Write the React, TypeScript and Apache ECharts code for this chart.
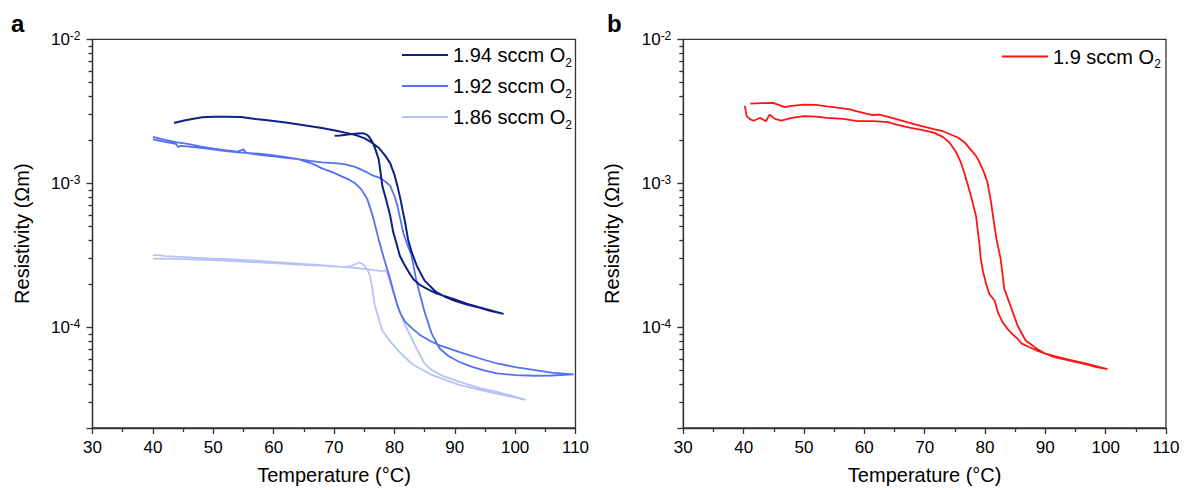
import React, { useEffect, useRef } from 'react';
import * as echarts from 'echarts';

// ---- axes ----
const X_MIN = 30;
const X_MAX = 110;
const X_STEP = 10;
const Y_MIN = 2e-5;
const Y_MAX = 1e-2;
const Y_MINOR = [
  3e-5, 4e-5, 5e-5, 6e-5, 7e-5, 8e-5, 9e-5,
  2e-4, 3e-4, 4e-4, 5e-4, 6e-4, 7e-4, 8e-4, 9e-4,
  2e-3, 3e-3, 4e-3, 5e-3, 6e-3, 7e-3, 8e-3, 9e-3,
];

// ---- series names / colours ----
const NAMES_A = ['1.94 sccm O2', '1.92 sccm O2', '1.86 sccm O2'];
const NAME_B = '1.9 sccm O2';
const COLORS_A = ['#101f86', '#5670f2', '#b7c3f6'];
const COLOR_B = '#ff1414';

// ---- data: [temperature °C, resistivity Ωm] (heating then cooling loop) ----
const S194: [number, number][] = [
  [43.5, 2.62e-3], [45, 2.72e-3], [46.5, 2.8e-3], [48.2, 2.88e-3], [50, 2.9e-3], [52, 2.9e-3],
  [54.6, 2.89e-3], [57, 2.8e-3], [59, 2.74e-3], [62, 2.64e-3], [65.3, 2.52e-3], [68, 2.42e-3],
  [70.4, 2.32e-3], [72, 2.24e-3], [73.6, 2.16e-3], [75, 2.06e-3], [76.1, 1.94e-3], [77.5, 1.75e-3],
  [78.5, 1.55e-3], [79.3, 1.38e-3], [80.0, 1.15e-3], [80.5, 9.6e-4], [81.0, 7.8e-4], [81.4, 6.4e-4],
  [81.8, 5.3e-4], [82.3, 4.0e-4], [82.9, 3.3e-4], [83.7, 2.68e-4], [85.0, 2.11e-4], [86.9, 1.76e-4],
  [88.5, 1.62e-4], [90.0, 1.53e-4], [92, 1.44e-4], [94, 1.37e-4], [96, 1.3e-4], [98.1, 1.24e-4],
  [96, 1.31e-4], [94, 1.38e-4], [92, 1.46e-4], [90, 1.56e-4], [88.5, 1.64e-4], [86.9, 1.72e-4],
  [85.5, 1.84e-4], [84.3, 1.96e-4], [83.2, 2.15e-4], [82.4, 2.41e-4], [81.6, 2.75e-4], [80.9, 3.14e-4],
  [80.3, 3.9e-4], [79.8, 4.6e-4], [79.3, 5.98e-4], [78.6, 7.8e-4], [78.0, 9.6e-4], [77.7, 1.2e-3],
  [77.4, 1.47e-3], [76.9, 1.7e-3], [76.4, 1.92e-3], [75.9, 2.08e-3], [75.5, 2.17e-3], [74.8, 2.23e-3],
  [74.0, 2.22e-3], [73.0, 2.2e-3], [72, 2.17e-3], [71, 2.15e-3], [70.1, 2.14e-3],
];

const S192: [number, number][] = [
  [40, 2.1e-3], [42, 2.0e-3], [43.8, 1.93e-3], [46, 1.87e-3], [48, 1.8e-3], [50.1, 1.74e-3],
  [52, 1.7e-3], [54, 1.66e-3], [55.0, 1.72e-3], [55.4, 1.63e-3], [58, 1.57e-3], [60, 1.54e-3],
  [62, 1.5e-3], [64.1, 1.47e-3], [66, 1.43e-3], [68, 1.4e-3], [70, 1.38e-3], [71.7, 1.36e-3],
  [73.5, 1.3e-3], [75.5, 1.19e-3], [76.5, 1.13e-3], [77.4, 1.1e-3], [78.5, 1.03e-3], [79.3, 9.6e-4],
  [80.0, 8.2e-4], [80.5, 7.0e-4], [81.0, 5.6e-4], [81.5, 4.5e-4], [82.0, 3.9e-4], [82.8, 3.2e-4],
  [83.7, 2.06e-4], [85.0, 1.28e-4], [86.2, 9.0e-5], [87.5, 7.13e-5], [89, 6.3e-5], [90.7, 5.77e-5],
  [93, 5.3e-5], [95, 5.0e-5], [97, 4.79e-5], [100, 4.66e-5], [103.3, 4.61e-5], [106, 4.63e-5],
  [109.7, 4.72e-5],
  [106, 4.85e-5], [103.3, 5.05e-5], [100, 5.3e-5], [97, 5.61e-5], [94, 6.1e-5], [90.7, 6.76e-5],
  [87.5, 7.5e-5], [86, 8.0e-5], [84.3, 8.8e-5], [83, 9.8e-5], [81.8, 1.09e-4], [81, 1.25e-4],
  [80.5, 1.42e-4], [79.8, 1.8e-4], [79.3, 2.17e-4], [78.3, 2.98e-4], [77.4, 4.08e-4], [76.4, 5.98e-4],
  [75.5, 7.8e-4], [74.5, 9.1e-4], [73.5, 1.0e-3], [72.3, 1.07e-3], [71, 1.13e-3], [69.8, 1.19e-3],
  [68, 1.27e-3], [66.6, 1.36e-3], [64.1, 1.47e-3], [62, 1.52e-3], [60, 1.56e-3], [58, 1.6e-3],
  [56, 1.62e-3], [54, 1.64e-3], [51.4, 1.69e-3], [49, 1.74e-3], [46, 1.8e-3], [44.5, 1.82e-3],
  [44.2, 1.78e-3], [43.8, 1.88e-3], [42, 1.94e-3], [40, 2.02e-3],
];

const S186: [number, number][] = [
  [40, 3.17e-4], [41, 3.17e-4], [42, 3.12e-4], [46, 3.06e-4], [50, 3.0e-4], [52.7, 2.98e-4],
  [56, 2.92e-4], [60, 2.85e-4], [65.3, 2.75e-4], [68, 2.7e-4], [71.7, 2.62e-4], [72.8, 2.66e-4],
  [74.2, 2.82e-4], [74.8, 2.75e-4], [75.5, 2.54e-4], [76.0, 2.25e-4], [76.4, 1.8e-4], [76.7, 1.45e-4],
  [77.4, 1.15e-4], [78.0, 9.5e-5], [79.3, 8.0e-5], [80.5, 7.0e-5], [81.2, 6.5e-5], [83.1, 5.5e-5],
  [86.2, 4.67e-5], [90.7, 3.98e-5], [94, 3.7e-5], [97, 3.45e-5], [101.8, 3.14e-5],
  [97, 3.57e-5], [94, 3.8e-5], [90.7, 4.2e-5], [88, 4.6e-5], [86.2, 5.05e-5], [85, 5.6e-5],
  [83.7, 7.1e-5], [82.8, 8.5e-5], [81.8, 1.03e-4], [80.5, 1.42e-4], [79.3, 2.06e-4], [78.8, 2.4e-4],
  [78.4, 2.5e-4], [78.0, 2.45e-4], [77.4, 2.48e-4], [76.5, 2.5e-4], [75, 2.55e-4], [72, 2.62e-4],
  [68, 2.68e-4], [64, 2.73e-4], [60, 2.79e-4], [55, 2.86e-4], [50, 2.93e-4], [45, 2.98e-4], [40, 3.0e-4],
];

const S19: [number, number][] = [
  [41.1, 3.58e-3], [43, 3.6e-3], [44.9, 3.62e-3], [45.8, 3.5e-3], [46.8, 3.38e-3], [48, 3.45e-3],
  [50, 3.52e-3], [52, 3.5e-3], [53.8, 3.42e-3], [55.5, 3.35e-3], [57.6, 3.26e-3], [59, 3.15e-3],
  [60.3, 3.05e-3], [61.4, 2.98e-3], [62.5, 3.0e-3], [64.6, 2.85e-3], [66.5, 2.7e-3], [68.4, 2.57e-3],
  [70, 2.47e-3], [71.5, 2.38e-3], [73, 2.3e-3], [74.1, 2.2e-3], [75.5, 2.08e-3], [76.6, 1.93e-3],
  [77.8, 1.68e-3], [78.5, 1.55e-3], [79.1, 1.4e-3], [79.8, 1.2e-3], [80.4, 1.02e-3], [81, 7.4e-4],
  [81.5, 5.3e-4], [81.9, 4.1e-4], [82.6, 2.98e-4], [83.2, 1.85e-4], [84.2, 1.42e-4], [85.4, 1.03e-4],
  [86.7, 8.13e-5], [88.6, 7.1e-5], [89.9, 6.6e-5], [91.5, 6.2e-5], [93.7, 5.92e-5], [96.8, 5.53e-5],
  [98.5, 5.3e-5], [100.3, 5.13e-5],
  [96.8, 5.6e-5], [93.7, 6.0e-5], [91.5, 6.3e-5], [89.9, 6.6e-5], [88.6, 6.9e-5], [87.3, 7.3e-5],
  [86.1, 7.7e-5], [85.3, 8.4e-5], [84.5, 9.0e-5], [83.7, 9.8e-5], [82.9, 1.09e-4], [82.2, 1.25e-4],
  [81.6, 1.53e-4], [80.7, 1.71e-4], [80.2, 2.0e-4], [79.7, 2.41e-4], [79.3, 3.0e-4], [79.1, 3.72e-4],
  [78.5, 5.98e-4], [77.8, 7.8e-4], [77.2, 9.6e-4], [76.6, 1.17e-3], [76.0, 1.4e-3], [75.2, 1.65e-3],
  [74.1, 1.92e-3], [73, 2.1e-3], [71.5, 2.25e-3], [69.5, 2.35e-3], [67.7, 2.43e-3], [65.5, 2.55e-3],
  [63.9, 2.66e-3], [61.5, 2.7e-3], [58.9, 2.7e-3], [56.5, 2.8e-3], [53.8, 2.85e-3], [52, 2.9e-3],
  [50, 2.93e-3], [48, 2.85e-3], [46.2, 2.72e-3], [45.2, 2.8e-3], [44.3, 3.0e-3], [43.7, 2.7e-3],
  [42.7, 2.85e-3], [41.7, 2.72e-3], [41.1, 2.78e-3], [40.5, 2.93e-3], [40.2, 3.45e-3], [40.35, 3.2e-3],
];

const FONT = '"Liberation Sans", Arial, sans-serif';
const AXIS_COLOR = '#333';

function xAxisCfg(gridIndex: number) {
  return {
    type: 'value',
    gridIndex,
    min: X_MIN,
    max: X_MAX,
    interval: X_STEP,
    name: 'Temperature (°C)',
    nameLocation: 'middle',
    nameGap: 37,
    nameTextStyle: { fontSize: 20, fontFamily: FONT, color: '#000' },
    axisLine: { show: true, onZero: false, lineStyle: { color: AXIS_COLOR, width: 1.3 } },
    axisTick: { show: true, length: 6, lineStyle: { color: AXIS_COLOR, width: 1.3 } },
    minorTick: { show: true, splitNumber: 2, length: 4, lineStyle: { color: AXIS_COLOR, width: 1.3 } },
    splitLine: { show: false },
    axisLabel: { fontSize: 17, fontFamily: FONT, color: '#000', margin: 11 },
  };
}

function yAxisCfg(gridIndex: number) {
  return {
    type: 'log',
    logBase: 10,
    gridIndex,
    position: 'left',
    min: Y_MIN,
    max: Y_MAX,
    name: 'Resistivity (Ωm)',
    nameLocation: 'middle',
    nameGap: 61,
    nameTextStyle: { fontSize: 20, fontFamily: FONT, color: '#000' },
    axisLine: { show: true, onZero: false, lineStyle: { color: AXIS_COLOR, width: 1.3 } },
    axisTick: { show: true, length: 6, lineStyle: { color: AXIS_COLOR, width: 1.3 } },
    splitLine: { show: false },
    axisLabel: {
      fontSize: 17,
      fontFamily: FONT,
      color: '#000',
      margin: 12,
      formatter: (v: number) => {
        const e = Math.log10(v);
        if (Math.abs(e - Math.round(e)) > 1e-6) return '';
        return `10{sup|${Math.round(e)}}`;
      },
      rich: { sup: { fontSize: 12, fontFamily: FONT, color: '#000', padding: [0, 0, 7, 0] } },
    },
  };
}

// companion log axis that only carries the minor ticks (2..9 × 10^n)
function yMinorAxisCfg(gridIndex: number) {
  return {
    type: 'log',
    logBase: 10,
    gridIndex,
    position: 'left',
    offset: 0,
    min: Y_MIN,
    max: Y_MAX,
    axisLine: { show: false },
    axisTick: { show: true, length: 4, customValues: Y_MINOR, lineStyle: { color: AXIS_COLOR, width: 1.3 } },
    axisLabel: { show: false },
    splitLine: { show: false },
  };
}

function lineSeries(name: string, data: [number, number][], color: string, idx: number, width = 1.8) {
  return {
    type: 'line',
    name,
    xAxisIndex: idx,
    yAxisIndex: idx,
    data,
    showSymbol: false,
    symbol: 'none',
    smooth: false,
    color,
    lineStyle: { color, width },
  };
}

const legendText = {
  fontSize: 20,
  fontFamily: FONT,
  color: '#000',
  rich: { sub: { fontSize: 12, fontFamily: FONT, color: '#000', padding: [15, 0, 0, 0] } },
};

export default function App() {
  const ref = useRef<HTMLDivElement>(null);
  useEffect(() => {
    if (!ref.current) return;
    const chart = echarts.init(ref.current, null, { renderer: 'svg' });
    chart.setOption({
      animation: false,
      backgroundColor: '#fff',
      grid: [
        { left: 92.5, top: 39.3, width: 483, height: 390.2, show: true, borderColor: AXIS_COLOR, borderWidth: 1.3, backgroundColor: 'transparent' },
        { left: 683.3, top: 39.3, width: 482.7, height: 390.2, show: true, borderColor: AXIS_COLOR, borderWidth: 1.3, backgroundColor: 'transparent' },
      ],
      xAxis: [xAxisCfg(0), xAxisCfg(1)],
      yAxis: [yAxisCfg(0), yAxisCfg(1), yMinorAxisCfg(0), yMinorAxisCfg(1)],
      legend: [
        {
          data: NAMES_A,
          orient: 'vertical',
          left: 397,
          top: 40,
          icon: 'rect',
          itemWidth: 46,
          itemHeight: 2,
          itemGap: 7.5,
          textStyle: legendText,
          formatter: (n: string) => n.replace('O2', 'O{sub|2}'),
        },
        {
          data: [NAME_B],
          orient: 'vertical',
          left: 997,
          top: 41.5,
          icon: 'rect',
          itemWidth: 46,
          itemHeight: 2,
          itemGap: 7.5,
          textStyle: legendText,
          formatter: (n: string) => n.replace('O2', 'O{sub|2}'),
        },
      ],
      graphic: [
        { type: 'text', x: 11, y: 23.7, style: { text: 'a', font: `bold 24px ${FONT}`, fill: '#000', verticalAlign: 'middle' } },
        { type: 'text', x: 607, y: 23.7, style: { text: 'b', font: `bold 24px ${FONT}`, fill: '#000', verticalAlign: 'middle' } },
      ],
      series: [
        lineSeries(NAMES_A[2], S186, COLORS_A[2], 0),
        lineSeries(NAMES_A[1], S192, COLORS_A[1], 0),
        lineSeries(NAMES_A[0], S194, COLORS_A[0], 0, 2),
        lineSeries(NAME_B, S19, COLOR_B, 1),
      ],
    });
    return () => chart.dispose();
  }, []);
  return (
    <div
      ref={ref}
      style={{ position: 'fixed', left: 0, top: 0, width: 1189, height: 490, background: '#fff' }}
    />
  );
}
